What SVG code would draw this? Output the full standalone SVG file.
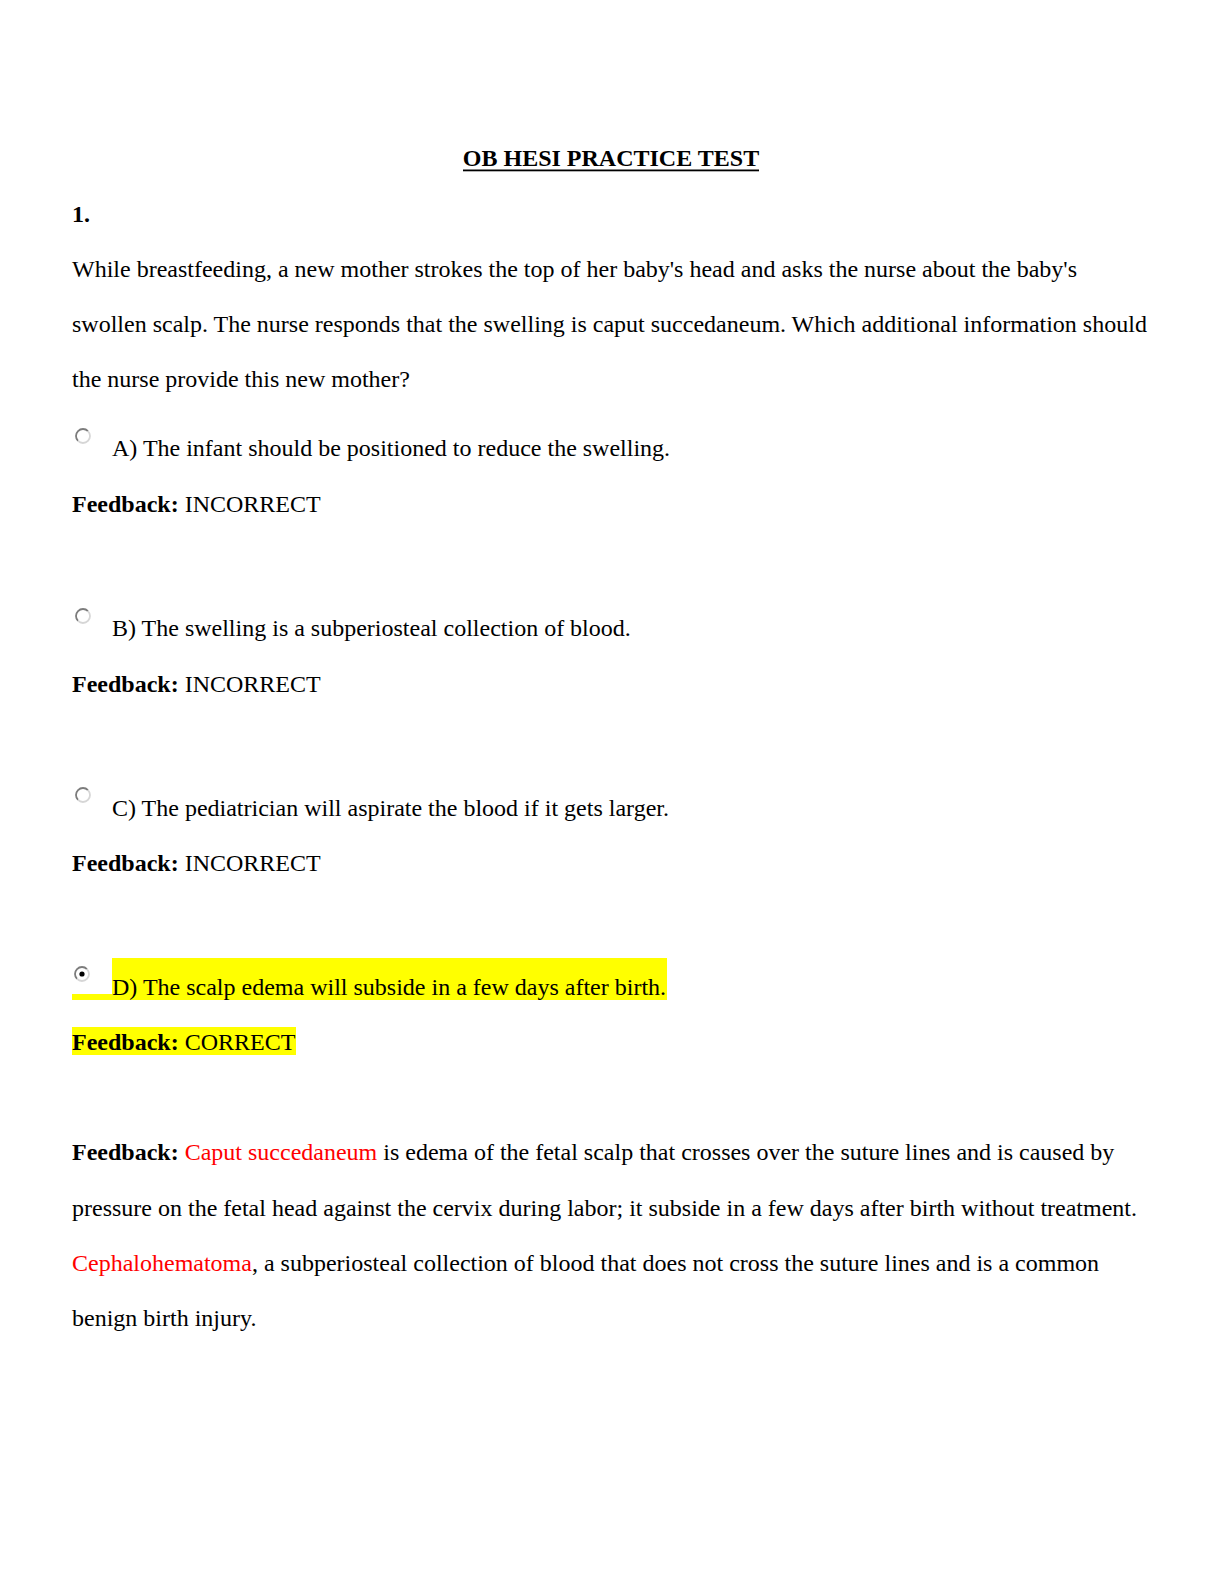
<svg xmlns="http://www.w3.org/2000/svg" width="1224" height="1584" viewBox="0 0 1224 1584">
<style>
text{font-family:"Liberation Serif","Times New Roman",serif;font-size:24px;fill:#000}
.b{font-weight:bold}
.r{fill:#ff0000}
.hl{fill:#ffff00}
</style>
<defs>
<symbol id="radio" overflow="visible">
<circle cx="0" cy="0" r="7" fill="#fff"/>
<path d="M-4.95 4.95 A7 7 0 0 1 4.95 -4.95" fill="none" stroke="#7c7c7c" stroke-width="1.8"/>
<path d="M4.95 -4.95 A7 7 0 0 1 -4.95 4.95" fill="none" stroke="#d6d6d6" stroke-width="1.8"/>
</symbol>
</defs>
<rect width="1224" height="1584" fill="#fff"/>
<g id="title">
<text x="611" y="166" text-anchor="middle" class="b">OB HESI PRACTICE TEST</text>
<rect x="463" y="169.5" width="296" height="1.8" fill="#000"/>
</g>
<g id="question">
<text x="72" y="222" class="b">1.</text>
<text x="72" y="277">While breastfeeding, a new mother strokes the top of her baby's head and asks the nurse about the baby's</text>
<text x="72" y="332">swollen scalp. The nurse responds that the swelling is caput succedaneum. Which additional information should</text>
<text x="72" y="387">the nurse provide this new mother?</text>
</g>
<g id="optionA">
<use href="#radio" x="83" y="436"/>
<text x="112" y="456">A) The infant should be positioned to reduce the swelling.</text>
<text x="72" y="512"><tspan class="b">Feedback:</tspan> INCORRECT</text>
</g>
<g id="optionB">
<use href="#radio" x="83" y="616"/>
<text x="112" y="636">B) The swelling is a subperiosteal collection of blood.</text>
<text x="72" y="692"><tspan class="b">Feedback:</tspan> INCORRECT</text>
</g>
<g id="optionC">
<use href="#radio" x="83" y="795"/>
<text x="112" y="816">C) The pediatrician will aspirate the blood if it gets larger.</text>
<text x="72" y="871"><tspan class="b">Feedback:</tspan> INCORRECT</text>
</g>
<g id="optionD">
<rect class="hl" x="112" y="958" width="555" height="42"/>
<rect class="hl" x="72" y="994" width="40" height="6"/>
<use href="#radio" x="82" y="974"/>
<circle cx="82" cy="974" r="2.6" fill="#000"/>
<text x="112" y="995">D) The scalp edema will subside in a few days after birth.</text>
<rect class="hl" x="72" y="1027" width="224" height="28"/>
<text x="72" y="1050"><tspan class="b">Feedback:</tspan> CORRECT</text>
</g>
<g id="explanation">
<text x="72" y="1160"><tspan class="b">Feedback:</tspan> <tspan class="r">Caput succedaneum</tspan> is edema of the fetal scalp that crosses over the suture lines and is caused by</text>
<text x="72" y="1216">pressure on the fetal head against the cervix during labor; it subside in a few days after birth without treatment.</text>
<text x="72" y="1271"><tspan class="r">Cephalohematoma</tspan>, a subperiosteal collection of blood that does not cross the suture lines and is a common</text>
<text x="72" y="1326">benign birth injury.</text>
</g>
</svg>
